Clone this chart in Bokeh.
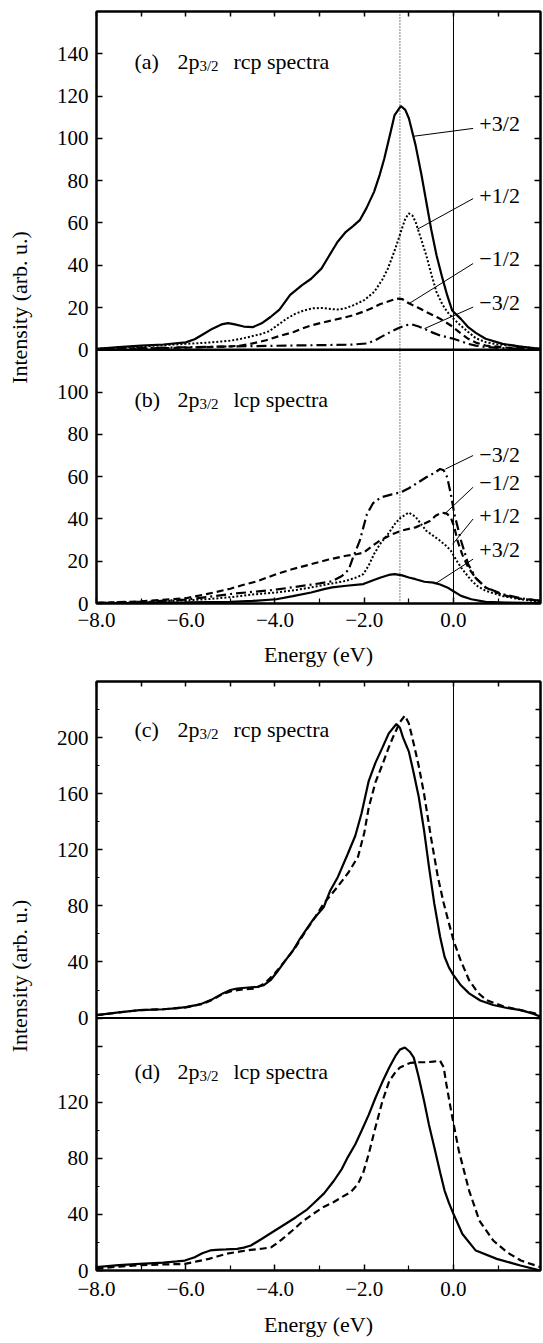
from bokeh.plotting import figure
from bokeh.models import Range1d, LinearAxis, FixedTicker, Label, Span
from bokeh.layouts import column
from bokeh.embed import file_html
from bokeh.resources import INLINE

FONT = "Liberation Serif"

# ---------------- data: panel (a) 2p3/2 rcp, by m_j ----------------
a_p32_E = [-8.0, -7.5, -7.0, -6.5, -6.0, -5.8, -5.6, -5.4, -5.2, -5.05, -4.9, -4.7, -4.5, -4.3, -4.1, -3.9,
           -3.66, -3.4, -3.19, -2.96, -2.8, -2.6, -2.41, -2.25, -2.1, -1.95, -1.78, -1.65, -1.55, -1.42, -1.32,
           -1.18, -1.08, -1.0, -0.85, -0.72, -0.61, -0.5, -0.38, -0.25, -0.14, -0.03, 0.17, 0.33, 0.5, 0.72,
           1.1, 1.5, 1.95]
a_p32_I = [0.5, 1.3, 2.0, 2.5, 3.5, 5.0, 7.5, 10.0, 12.0, 12.6, 12.0, 11.0, 10.7, 12.5, 15.5, 19.0,
           26.0, 30.5, 33.6, 38.4, 44, 51, 55.8, 58.5, 61.3, 67, 74.7, 83, 90.5, 102, 111,
           115.3, 113.5, 109.5, 96.8, 83, 70, 57, 44.7, 34, 25.7, 18.6, 14.5, 10.7, 8, 5.2,
           2.8, 1.5, 0.5]

a_p12_E = [-8.0, -7.5, -7.0, -6.5, -6.0, -5.5, -5.0, -4.76, -4.5, -4.3, -4.13, -3.95, -3.74, -3.55, -3.35,
           -3.15, -2.96, -2.75, -2.57, -2.4, -2.25, -2.0, -1.78, -1.6, -1.47, -1.3, -1.18, -1.08, -1.0, -0.92,
           -0.85, -0.72, -0.61, -0.5, -0.38, -0.25, -0.14, 0.0, 0.17, 0.33, 0.5, 0.72, 1.0, 1.34, 1.7, 1.95]
a_p12_I = [0.5, 1.0, 1.5, 2.2, 2.8, 3.4, 4.3, 5.2, 6.5, 7.5, 8.8, 11.5, 14.7, 17.0, 18.6,
           19.6, 19.8, 19.3, 19.0, 19.8, 21, 23.5, 27.3, 33, 38.4, 48, 55.8, 62, 64.5, 63.5,
           60.5, 52, 44.7, 36, 27.3, 21.5, 17.9, 14.7, 11.3, 8.4, 5.5, 3.6, 2.5, 2.0, 1.0, 0.3]

a_m12_E = [-8.0, -7.0, -6.0, -5.0, -4.76, -4.5, -4.2, -3.9, -3.58, -3.4, -3.19, -2.95, -2.72, -2.5, -2.25,
           -2.05, -1.86, -1.65, -1.47, -1.28, -1.15, -1.0, -0.8, -0.61, -0.45, -0.3, -0.06, 0.15, 0.33, 0.5,
           0.72, 1.2, 1.95]
a_m12_I = [0.2, 0.6, 1.0, 1.6, 2.0, 3.0, 4.5, 6.5, 8.4, 10, 11.5, 12.8, 13.9, 15.0, 16.3,
           17.8, 19.4, 21.5, 22.8, 24.2, 24, 22.0, 20.0, 17.9, 16.2, 14.7, 11.5, 8, 5.2, 3.4,
           2.0, 1.0, 0.5]

a_m32_E = [-8.0, -7.0, -6.0, -5.0, -4.0, -3.0, -2.3, -1.94, -1.75, -1.63, -1.45, -1.24, -1.08, -0.93,
           -0.78, -0.61, -0.45, -0.3, -0.15, 0.0, 0.17, 0.33, 0.5, 0.72, 1.2, 1.95]
a_m32_I = [0.3, 0.8, 1.2, 1.6, 1.9, 2.2, 2.4, 3.0, 4.5, 6.0, 8.0, 10.2, 11.6, 12.0,
           11.0, 9.5, 8.0, 6.8, 6.0, 5.2, 4.0, 2.8, 2.0, 1.3, 0.7, 0.2]

# ---------------- data: panel (b) 2p3/2 lcp, by m_j ----------------
b_m32_E = [-8.0, -7.0, -6.0, -5.54, -5.0, -4.5, -4.0, -3.5, -3.0, -2.72, -2.5, -2.35, -2.25, -2.1, -1.94,
           -1.8, -1.63, -1.4, -1.18, -1.0, -0.85, -0.61, -0.45, -0.3, -0.22, -0.14, -0.06, 0.02, 0.17, 0.33,
           0.5, 0.72, 1.1, 1.5, 1.95]
b_m32_I = [0.3, 0.8, 1.8, 3.0, 4.5, 5.5, 6.5, 8.0, 9.5, 10.5, 13, 16, 21.8, 29.7, 42.3,
           47.5, 50.2, 51.5, 52.6, 54.5, 56.5, 59.7, 61.5, 63.6, 63.0, 59.7, 51.8, 42.3, 29.7, 18.6,
           12, 7.6, 4.4, 2.5, 1.3]

b_m12_E = [-8.0, -7.0, -6.0, -5.54, -5.0, -4.76, -4.4, -3.97, -3.6, -3.19, -2.8, -2.41, -2.15, -2.02, -1.8,
           -1.63, -1.4, -1.18, -0.85, -0.65, -0.53, -0.4, -0.26, -0.15, -0.06, 0.02, 0.09, 0.2, 0.33, 0.5,
           0.72, 1.1, 1.5, 1.95]
b_m12_I = [0.3, 1.0, 2.5, 4.4, 7.0, 8.5, 10.5, 13.9, 16.3, 18.6, 20.8, 22.6, 23.4, 24.0, 27.5,
           30.0, 32.5, 34.4, 36.0, 37.8, 39.0, 41.5, 43.0, 42.5, 40.7, 36, 29.7, 23, 17.0, 12,
           7.6, 4, 2.3, 1.3]

b_p12_E = [-8.0, -7.0, -6.0, -5.54, -5.0, -4.76, -4.5, -3.97, -3.5, -3.19, -2.8, -2.41, -2.15, -2.02, -1.9,
           -1.78, -1.65, -1.47, -1.3, -1.18, -1.0, -0.85, -0.61, -0.45, -0.3, -0.15, -0.06, 0.05, 0.17, 0.3,
           0.41, 0.55, 0.72, 1.1, 1.5, 1.95]
b_p12_I = [0.2, 0.6, 1.5, 2.0, 3.0, 3.6, 4.3, 5.2, 6.5, 7.6, 9.2, 10.7, 12.5, 13.9, 18,
           23.4, 28, 32.8, 38, 40.7, 43.0, 41, 34.4, 32, 29.7, 27, 25.0, 21, 17.0, 13.5,
           10.7, 8, 6.0, 3.5, 2.0, 0.8]

b_p32_E = [-8.0, -7.0, -6.0, -5.0, -4.5, -3.97, -3.6, -3.19, -2.9, -2.72, -2.4, -2.02, -1.8, -1.63, -1.45,
           -1.32, -1.15, -1.0, -0.85, -0.65, -0.45, -0.3, -0.14, 0.0, 0.17, 0.4, 0.72, 1.2, 1.95]
b_p32_I = [0.2, 0.3, 0.5, 0.8, 1.2, 2.0, 3.5, 5.2, 6.8, 7.6, 8.4, 9.2, 11, 12.3, 13.5,
           13.9, 13.3, 12.3, 11.5, 10.3, 9.9, 9.0, 7.6, 5.8, 3.6, 2.0, 0.8, 0.4, 0.2]

# ---------------- data: panel (c) rcp totals ----------------
c_sol_E = [-8.0, -7.5, -7.03, -6.5, -6.25, -6.0, -5.8, -5.63, -5.4, -5.17, -5.0, -4.85, -4.6, -4.39, -4.25,
           -4.1, -3.95, -3.77, -3.6, -3.46, -3.3, -3.15, -2.91, -2.76, -2.6, -2.37, -2.2, -2.06, -1.9, -1.75,
           -1.59, -1.45, -1.28, -1.2, -1.13, -1.0, -0.9, -0.78, -0.66, -0.55, -0.43, -0.3, -0.2, -0.1, 0.0,
           0.15, 0.35, 0.6, 0.89, 1.2, 1.51, 1.8, 1.95]
c_sol_I = [2.1, 4.0, 5.7, 6.3, 6.9, 7.8, 9.0, 10.4, 13.5, 17.6, 20.0, 21.1, 21.8, 22.3, 23.5,
           27, 33, 41, 48, 55.5, 63, 70, 79, 91, 100, 117, 130, 146, 169, 182,
           193, 203, 209.7, 207, 200, 190, 176, 158, 134, 108, 81.6, 58, 43.7, 36, 30.6,
           24, 17.6, 12.5, 9.3, 7.2, 5.7, 3, 1.0]

c_das_E = [-8.0, -7.5, -7.03, -6.5, -6.0, -5.63, -5.4, -5.17, -4.95, -4.7, -4.45, -4.23, -4.0, -3.77, -3.55,
           -3.3, -3.1, -2.91, -2.6, -2.35, -2.14, -2.0, -1.9, -1.75, -1.59, -1.45, -1.36, -1.2, -1.09, -1.0,
           -0.89, -0.78, -0.66, -0.5, -0.35, -0.22, -0.12, 0.0, 0.15, 0.35, 0.55, 0.74, 1.1, 1.5, 1.8, 1.95]
c_das_I = [2.1, 4.0, 5.7, 6.3, 7.6, 10.0, 13, 17.2, 19.5, 20.5, 21.0, 24.7, 32, 41, 50,
           62.6, 72, 81.6, 93.5, 104, 115, 132, 150, 168, 181, 193, 200, 211, 215.7, 210,
           195.5, 180, 160, 128, 100.6, 82, 69.8, 55.5, 42, 27, 18, 12.8, 8.5, 5.7, 3.5, 2.0]

# ---------------- data: panel (d) lcp totals ----------------
d_sol_E = [-8.0, -7.5, -7.03, -6.5, -6.2, -6.02, -5.8, -5.63, -5.45, -5.32, -5.1, -4.85, -4.7, -4.54, -4.3,
           -4.0, -3.75, -3.53, -3.3, -3.15, -2.9, -2.68, -2.5, -2.37, -2.2, -2.06, -1.9, -1.75, -1.6, -1.44,
           -1.3, -1.2, -1.09, -0.98, -0.89, -0.78, -0.66, -0.55, -0.43, -0.3, -0.2, -0.1, 0.0, 0.2, 0.5,
           0.97, 1.5, 1.95]
d_sol_I = [2.4, 3.8, 4.7, 5.6, 6.5, 7.1, 9.5, 12.3, 14.3, 14.7, 15.0, 15.4, 16.3, 17.8, 22.5,
           28.5, 33.5, 38, 43, 47.4, 55, 64, 72.5, 80.7, 90, 99.6, 111, 123, 134, 144.7,
           153, 157.5, 159, 156, 151.8, 138, 121, 104, 87.8, 70, 57, 48, 40.3, 26, 14.2,
           8.3, 3.6, 0.0]

d_das_E = [-8.0, -7.5, -7.0, -6.5, -6.02, -5.75, -5.48, -5.3, -5.09, -4.8, -4.54, -4.3, -4.08, -3.85, -3.61,
           -3.4, -3.15, -2.9, -2.7, -2.52, -2.3, -2.14, -2.02, -1.9, -1.75, -1.59, -1.44, -1.3, -1.2, -1.05,
           -0.97, -0.8, -0.6, -0.45, -0.3, -0.22, -0.16, -0.04, 0.12, 0.35, 0.58, 0.89, 1.2, 1.51, 1.95]
d_das_I = [1.2, 2.8, 3.8, 4.3, 4.7, 6.5, 8.3, 10, 11.9, 13.5, 14.7, 15.5, 16.6, 22, 28.5,
           34.5, 40.3, 45.5, 48.5, 52, 56, 61.7, 70, 83, 102, 121, 135, 141.5, 144.7, 147,
           148, 148.5, 148.5, 149, 149.5, 145, 133, 111.5, 85.4, 57, 35.6, 21.4, 13, 7.1, 2.4]

# ---------------- tick labels / annotations ----------------
x_major = [-8, -6, -4, -2, 0]
x_minor = [-7, -5, -3, -1, 1]
x_labels = ["−8.0", "−6.0", "−4.0", "−2.0", "0.0"]
x_all = [-8, -7, -6, -5, -4, -3, -2, -1, 0, 1]

ab_split = 120          # top of panel (b) scale
a_top = 160
b_ticks = [0, 20, 40, 60, 80, 100]
a_ticks = [0, 20, 40, 60, 80, 100, 120, 140]

cd_split = 180          # top of panel (d) scale
c_top = 240
d_ticks = [0, 40, 80, 120, 160]
d_tick_labels = ["0", "40", "80", "120", ""]
d_minor = [20, 60, 100, 140]
c_ticks = [0, 40, 80, 120, 160, 200]
c_minor = [20, 60, 100, 140, 180, 220]

fermi_E = 0.0
peak_E = -1.2

a_lab_text = ["+3/2", "+1/2", "−1/2", "−3/2"]
a_lab_y = [107, 73, 43, 22.6]
a_lead_x0 = [-0.89, -0.81, -1.0, -0.65]
a_lead_y0 = [101, 57, 21.8, 10]
a_lead_y1 = [104.7, 71.5, 40.8, 20.2]

b_lab_text = ["−3/2", "−1/2", "+1/2", "+3/2"]
b_lab_y = [70.7, 57.3, 41.5, 25.7]
b_lead_x0 = [-0.18, -0.2, -0.02, -0.42]
b_lead_y0 = [63.6, 42.3, 28, 9.2]
b_lead_y1 = [70, 55, 40, 21]
lead_x1 = 0.44
lab_x = 0.58

FRAME_W = 444
TICK_FS = "21px"
TITLE_FS = "22px"


def style_axis(ax):
    ax.axis_line_color = "black"
    ax.axis_line_width = 2
    ax.major_tick_in = 6
    ax.major_tick_out = 0
    ax.minor_tick_in = 3
    ax.minor_tick_out = 0
    ax.major_tick_line_width = 1.5
    ax.minor_tick_line_width = 1.2
    ax.major_tick_line_color = "black"
    ax.minor_tick_line_color = "black"
    ax.major_label_text_font = FONT
    ax.major_label_text_color = "black"
    ax.major_label_text_font_size = TICK_FS
    ax.axis_label_text_font = FONT
    ax.axis_label_text_font_style = "normal"
    ax.axis_label_text_color = "black"
    ax.axis_label_text_font_size = TITLE_FS


def tick_only_axis(ticks, length):
    # axis with only (unlabelled) minor ticks, used for the mirrored top/right ticks
    ax = LinearAxis(ticker=FixedTicker(ticks=[], minor_ticks=ticks))
    style_axis(ax)
    ax.minor_tick_in = length
    ax.minor_tick_line_width = 1.5
    ax.major_label_standoff = 0
    return ax


def base_fig(frame_h, ytop, top_b, bot_b):
    p = figure(frame_width=FRAME_W, frame_height=frame_h,
               x_range=Range1d(-8, 1.95), y_range=Range1d(0, ytop),
               x_axis_location=None, y_axis_location=None,
               output_backend="svg", toolbar_location=None,
               min_border_left=96, min_border_right=3,
               min_border_top=top_b, min_border_bottom=bot_b,
               background_fill_color="white", border_fill_color="white")
    p.grid.grid_line_color = None
    p.outline_line_color = "black"
    p.outline_line_width = 2
    return p


def add_x_axes(p, label_standoff, title_standoff):
    xb = LinearAxis(ticker=FixedTicker(ticks=x_major, minor_ticks=x_minor),
                    major_label_overrides={t: s for t, s in zip(x_major, x_labels)},
                    axis_label="Energy (eV)")
    style_axis(xb)
    xb.minor_tick_in = 5
    xb.major_label_standoff = label_standoff
    xb.axis_label_standoff = title_standoff
    p.add_layout(xb, "below")
    p.add_layout(tick_only_axis(x_all, 5), "above")


def panel_title(p, x, y, letter, pol, rng):
    kw = dict(text_font=FONT, text_color="black", text_baseline="alphabetic")
    p.add_layout(Label(x=x, y=y, y_range_name=rng, text="(%s)" % letter, text_font_size="22px", **kw))
    p.add_layout(Label(x=x, y=y, y_range_name=rng, x_offset=43, text="2p", text_font_size="22px", **kw))
    p.add_layout(Label(x=x, y=y, y_range_name=rng, x_offset=65, y_offset=-5, text="3/2",
                       text_font_size="15px", **kw))
    p.add_layout(Label(x=x, y=y, y_range_name=rng, x_offset=99, text="%s spectra" % pol,
                       text_font_size="22px", **kw))


# ====================== figure 1 : panels (a) + (b) ======================
p1 = base_fig(592, ab_split + a_top, 11, 73)
p1.extra_y_ranges = {"a": Range1d(-ab_split, a_top), "b": Range1d(0, ab_split + a_top)}

left_ticks = b_ticks + [ab_split + t for t in a_ticks]
left_labels = {t: str(t) for t in b_ticks}
left_labels.update({ab_split + t: str(t) for t in a_ticks})
yl = LinearAxis(ticker=FixedTicker(ticks=left_ticks), major_label_overrides=left_labels,
                axis_label="Intensity (arb. u.)")
style_axis(yl)
yl.major_label_standoff = 8
yl.axis_label_standoff = 22
p1.add_layout(yl, "left")
p1.add_layout(tick_only_axis(left_ticks, 6), "right")
add_x_axes(p1, 9, 12)

p1.add_layout(Span(location=fermi_E, dimension="height", line_color="black", line_width=1))
p1.add_layout(Span(location=peak_E, dimension="height", line_color="black", line_width=1,
                   line_dash="1 2"))
p1.add_layout(Span(location=0, dimension="width", y_range_name="a", line_color="black", line_width=2.5))

# panel (a)
p1.line(a_p32_E, a_p32_I, y_range_name="a", line_color="black", line_width=2.2)
p1.line(a_p12_E, a_p12_I, y_range_name="a", line_color="black", line_width=2, line_dash="2 2")
p1.line(a_m12_E, a_m12_I, y_range_name="a", line_color="black", line_width=2.2, line_dash="7 4")
p1.line(a_m32_E, a_m32_I, y_range_name="a", line_color="black", line_width=2.2, line_dash="10 4 2 4")
# panel (b)
p1.line(b_p32_E, b_p32_I, y_range_name="b", line_color="black", line_width=2.2)
p1.line(b_p12_E, b_p12_I, y_range_name="b", line_color="black", line_width=2, line_dash="2 2")
p1.line(b_m12_E, b_m12_I, y_range_name="b", line_color="black", line_width=2.2, line_dash="7 4")
p1.line(b_m32_E, b_m32_I, y_range_name="b", line_color="black", line_width=2.2, line_dash="10 4 2 4")

# leader lines + m_j labels
p1.segment(x0=a_lead_x0, y0=a_lead_y0, x1=[lead_x1] * 4, y1=a_lead_y1, y_range_name="a",
           line_color="black", line_width=1)
p1.segment(x0=b_lead_x0, y0=b_lead_y0, x1=[lead_x1] * 4, y1=b_lead_y1, y_range_name="b",
           line_color="black", line_width=1)
for t, y in zip(a_lab_text, a_lab_y):
    p1.add_layout(Label(x=lab_x, y=y, y_range_name="a", text=t, text_font=FONT, text_font_size="22px",
                        text_baseline="middle", text_color="black"))
for t, y in zip(b_lab_text, b_lab_y):
    p1.add_layout(Label(x=lab_x, y=y, y_range_name="b", text=t, text_font=FONT, text_font_size="22px",
                        text_baseline="middle", text_color="black"))

panel_title(p1, -7.15, 136.5, "a", "rcp", "a")
panel_title(p1, -7.15, 96.5, "b", "lcp", "b")

# ====================== figure 2 : panels (c) + (d) ======================
p2 = base_fig(589, cd_split + c_top, 5, 73)
p2.extra_y_ranges = {"c": Range1d(-cd_split, c_top), "d": Range1d(0, cd_split + c_top)}

l2_ticks = d_ticks + [cd_split + t for t in c_ticks]
l2_minor = d_minor + [cd_split + t for t in c_minor]
l2_labels = {t: s for t, s in zip(d_ticks, d_tick_labels)}
l2_labels.update({cd_split + t: str(t) for t in c_ticks})
yl2 = LinearAxis(ticker=FixedTicker(ticks=l2_ticks, minor_ticks=l2_minor), major_label_overrides=l2_labels,
                 axis_label="Intensity (arb. u.)")
style_axis(yl2)
yl2.major_label_standoff = 8
yl2.axis_label_standoff = 22
p2.add_layout(yl2, "left")
p2.add_layout(tick_only_axis(l2_ticks + l2_minor, 5), "right")
add_x_axes(p2, 11, 13)

p2.add_layout(Span(location=fermi_E, dimension="height", line_color="black", line_width=1))
p2.add_layout(Span(location=0, dimension="width", y_range_name="c", line_color="black", line_width=2))

p2.line(c_sol_E, c_sol_I, y_range_name="c", line_color="black", line_width=2.2)
p2.line(c_das_E, c_das_I, y_range_name="c", line_color="black", line_width=2.2, line_dash="7 4")
p2.line(d_sol_E, d_sol_I, y_range_name="d", line_color="black", line_width=2.2)
p2.line(d_das_E, d_das_I, y_range_name="d", line_color="black", line_width=2.2, line_dash="7 4")

panel_title(p2, -7.15, 206, "c", "rcp", "c")
panel_title(p2, -7.15, 142, "d", "lcp", "d")

layout = column(p1, p2, spacing=0)
open("out.html", "w").write(file_html(layout, INLINE))
